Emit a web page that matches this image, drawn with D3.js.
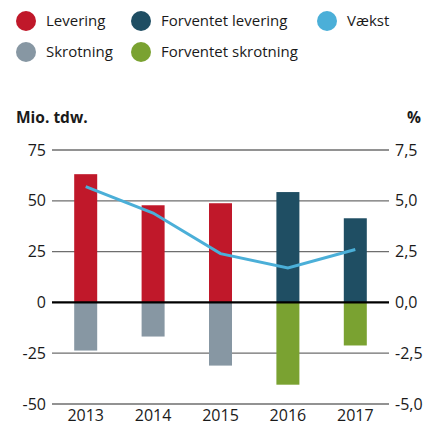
<!DOCTYPE html>
<html>
<head>
<meta charset="utf-8">
<script src="https://cdn.jsdelivr.net/npm/d3@7"></script>
<style>
  body { margin: 0; background: #fff; }
  text { font-family: 'Open Sans', sans-serif; fill: #1a1a1a; }
</style>
</head>
<body>
<div id="chart"></div>
<script>
const years = ['2013', '2014', '2015', '2016', '2017'];
const levering = [63.1, 47.8, 48.8, null, null];
const forventetLevering = [null, null, null, 54.3, 41.4];
const skrotning = [-23.7, -16.8, -31.1, null, null];
const forventetSkrotning = [null, null, null, -40.5, -21.2];
const vaekst = [5.7, 4.4, 2.4, 1.7, 2.6];
const leftTicks = [75, 50, 25, 0, -25, -50];
const rightTicks = [7.5, 5.0, 2.5, 0, -2.5, -5.0];

const legendItems = [
  { label: 'Levering', color: '#c0182a', col: 0, row: 0 },
  { label: 'Forventet levering', color: '#1f4e63', col: 1, row: 0 },
  { label: 'Vækst', color: '#4bafd8', col: 2, row: 0 },
  { label: 'Skrotning', color: '#8797a3', col: 0, row: 1 },
  { label: 'Forventet skrotning', color: '#7aa231', col: 1, row: 1 }
];

const width = 436, height = 428;
const margin = { top: 150, right: 47, bottom: 24, left: 52 };
const innerW = width - margin.left - margin.right;

const svg = d3.select('#chart').append('svg')
  .attr('width', width)
  .attr('height', height);

// legend
const legendX = [26, 141, 327];
const legendY = [21, 52];
const legend = svg.selectAll('.legend')
  .data(legendItems)
  .enter().append('g')
  .attr('class', 'legend')
  .attr('transform', d => `translate(${legendX[d.col]},${legendY[d.row]})`);
legend.append('circle')
  .attr('r', 10)
  .attr('fill', d => d.color);
legend.append('text')
  .attr('x', 20)
  .attr('dy', '0.35em')
  .style('font-size', '15px')
  .text(d => d.label);

const x = d3.scaleBand()
  .domain(years)
  .range([margin.left, margin.left + innerW]);

const y = d3.scaleLinear()
  .domain([-50, 75])
  .range([404, 150]);

const y2 = d3.scaleLinear()
  .domain([-5, 7.5])
  .range([404, 150]);

// axis titles
svg.append('text')
  .attr('x', 16).attr('y', 123)
  .style('font-size', '15.5px')
  .style('font-weight', 'bold')
  .text('Mio. tdw.');
svg.append('text')
  .attr('x', 421).attr('y', 123)
  .attr('text-anchor', 'end')
  .style('font-size', '15.5px')
  .style('font-weight', 'bold')
  .text('%');

// gridlines
svg.append('g')
  .selectAll('line')
  .data(leftTicks.filter(d => d !== 0))
  .enter().append('line')
  .attr('x1', margin.left)
  .attr('x2', margin.left + innerW)
  .attr('y1', d => y(d))
  .attr('y2', d => y(d))
  .attr('stroke', '#6e6e6e')
  .attr('stroke-width', 1.3);

// left axis
const leftAxis = svg.append('g')
  .attr('transform', `translate(${margin.left},0)`)
  .call(d3.axisLeft(y).tickValues(leftTicks).tickSize(0).tickPadding(6).tickFormat(d => d < 0 ? '-' + Math.abs(d) : d));
leftAxis.select('.domain').remove();
leftAxis.selectAll('text')
  .style('font-size', '16px')
  .style('font-family', "'Open Sans', sans-serif")
  .attr('fill', '#1a1a1a');

// right axis
const fmt = d => (d < 0 ? '-' : '') + d3.format('.1f')(Math.abs(d)).replace('.', ',');
const rightAxis = svg.append('g')
  .attr('transform', `translate(${margin.left + innerW},0)`)
  .call(d3.axisRight(y2).tickValues(rightTicks).tickSize(0).tickPadding(6).tickFormat(fmt));
rightAxis.select('.domain').remove();
rightAxis.selectAll('text')
  .style('font-size', '16px')
  .style('font-family', "'Open Sans', sans-serif")
  .attr('fill', '#1a1a1a');

// bars
const barW = 23;
const series = [
  { values: levering, color: '#c0182a' },
  { values: forventetLevering, color: '#1f4e63' },
  { values: skrotning, color: '#8797a3' },
  { values: forventetSkrotning, color: '#7aa231' }
];
series.forEach(s => {
  svg.append('g')
    .selectAll('rect')
    .data(years.map((yr, i) => ({ yr, v: s.values[i] })).filter(d => d.v !== null))
    .enter().append('rect')
    .attr('x', d => x(d.yr) + x.bandwidth() / 2 - barW / 2)
    .attr('width', barW)
    .attr('y', d => y(Math.max(0, d.v)))
    .attr('height', d => Math.abs(y(d.v) - y(0)))
    .attr('fill', s.color);
});

// zero line
svg.append('line')
  .attr('x1', margin.left)
  .attr('x2', margin.left + innerW)
  .attr('y1', y(0))
  .attr('y2', y(0))
  .attr('stroke', '#000')
  .attr('stroke-width', 2.2);

// growth line
const line = d3.line()
  .x((d, i) => x(years[i]) + x.bandwidth() / 2)
  .y(d => y2(d));
svg.append('path')
  .datum(vaekst)
  .attr('d', line)
  .attr('fill', 'none')
  .attr('stroke', '#4bafd8')
  .attr('stroke-width', 3);

// x labels
svg.append('g')
  .selectAll('text')
  .data(years)
  .enter().append('text')
  .attr('x', d => x(d) + x.bandwidth() / 2)
  .attr('y', 421)
  .attr('text-anchor', 'middle')
  .style('font-size', '16px')
  .text(d => d);
</script>
</body>
</html>
